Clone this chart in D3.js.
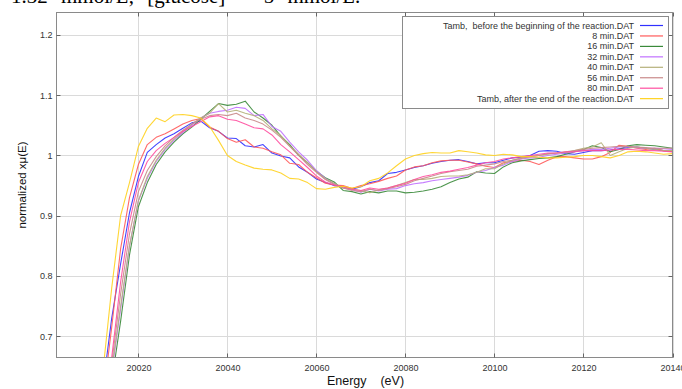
<!DOCTYPE html>
<html>
<head>
<meta charset="utf-8">
<script src="https://cdn.jsdelivr.net/npm/d3@7"></script>
<style>
  html, body { margin: 0; padding: 0; background: #fff; }
  svg { display: block; }
  text { font-family: "Liberation Sans", Arial, sans-serif; }
</style>
</head>
<body>
<div id="chart"></div>
<script>
// Photon energy grid (eV) shared by all spectra
const energies = [
  20010,20012,20014,20016,20018,20020,20022,20024,20026,20028,20030,
  20032,20034,20036,20038,20040,20042,20044,20046,20048,20050,20052,
  20054,20056,20058,20060,20062,20064,20066,20068,20070,20072,20074,
  20076,20078,20080,20082,20084,20086,20088,20090,20092,20094,20096,
  20098,20100,20102,20104,20106,20108,20110,20112,20114,20116,20118,
  20120,20122,20124,20126,20128,20130,20132,20134,20136,20138,20140
];

// Normalized absorption, one array per measurement
const tambBefore = [
  0.52,0.615,0.73,0.82,0.905,0.965,1.005,1.018,1.029,1.036,1.045,
  1.054,1.057,1.046,1.040,1.029,1.028,1.016,1.014,1.018,1.004,0.999,
  0.996,0.981,0.972,0.961,0.955,0.950,0.948,0.944,0.948,0.955,0.958,
  0.970,0.972,0.976,0.980,0.983,0.987,0.990,0.992,0.993,0.990,0.986,
  0.988,0.988,0.992,0.996,0.997,1.000,1.007,1.008,1.007,1.003,1.002,
  1.005,1.008,1.008,1.009,1.011,1.013,1.014,1.012,1.010,1.008,1.007
];
const min8 = [
  0.50,0.595,0.715,0.845,0.93,0.985,1.018,1.030,1.036,1.044,1.052,
  1.058,1.061,1.047,1.040,1.028,1.022,1.026,1.014,1.012,1.006,1.001,
  0.987,0.985,0.972,0.963,0.954,0.951,0.950,0.945,0.950,0.953,0.957,
  0.962,0.966,0.976,0.981,0.983,0.988,0.991,0.992,0.992,0.989,0.986,
  0.982,0.980,0.988,0.990,0.992,0.990,0.985,0.992,0.998,0.998,0.996,
  0.994,0.994,0.998,1.005,1.017,1.015,1.012,1.010,1.012,1.008,1.006
];
const min16 = [
  0.46,0.55,0.625,0.725,0.835,0.915,0.955,0.985,1.006,1.022,1.036,
  1.047,1.060,1.073,1.086,1.083,1.085,1.090,1.072,1.062,1.050,1.032,
  1.018,1.000,0.988,0.974,0.963,0.956,0.942,0.940,0.936,0.940,0.938,
  0.941,0.941,0.938,0.939,0.941,0.944,0.948,0.955,0.961,0.964,0.973,
  0.971,0.970,0.981,0.988,0.991,0.993,0.995,0.996,0.998,1.002,1.006,
  1.010,1.016,1.013,1.006,1.010,1.016,1.018,1.017,1.016,1.014,1.012
];
const min32 = [
  0.47,0.56,0.64,0.745,0.85,0.925,0.962,0.990,1.010,1.025,1.038,
  1.050,1.062,1.070,1.073,1.075,1.080,1.078,1.066,1.068,1.048,1.040,
  1.022,1.006,0.992,0.975,0.962,0.953,0.946,0.943,0.939,0.944,0.941,
  0.944,0.945,0.950,0.953,0.955,0.958,0.960,0.962,0.964,0.967,0.972,
  0.975,0.980,0.984,0.990,0.994,0.996,0.997,1.000,1.002,1.004,1.006,
  1.008,1.010,1.010,1.012,1.014,1.014,1.013,1.012,1.012,1.011,1.010
];
const min40 = [
  0.475,0.565,0.645,0.75,0.85,0.925,0.965,0.992,1.012,1.027,1.040,
  1.052,1.062,1.070,1.086,1.072,1.075,1.070,1.066,1.058,1.044,1.033,
  1.016,1.002,0.988,0.973,0.961,0.954,0.946,0.944,0.942,0.938,0.943,
  0.946,0.950,0.955,0.960,0.960,0.962,0.965,0.966,0.966,0.968,0.972,
  0.978,0.978,0.986,0.992,0.996,0.998,1.000,1.002,1.004,1.005,1.008,
  1.012,1.014,1.021,1.000,1.006,1.012,1.014,1.012,1.010,1.008,1.008
];
const min56 = [
  0.48,0.57,0.655,0.77,0.87,0.94,0.975,0.998,1.016,1.030,1.042,
  1.052,1.060,1.066,1.068,1.066,1.070,1.062,1.058,1.052,1.042,1.030,
  1.015,1.000,0.985,0.972,0.960,0.952,0.946,0.942,0.940,0.944,0.942,
  0.945,0.948,0.952,0.958,0.962,0.966,0.970,0.973,0.975,0.977,0.982,
  0.984,0.986,0.990,0.992,0.995,0.998,1.000,1.003,1.004,1.006,1.008,
  1.010,1.012,1.013,1.014,1.015,1.015,1.014,1.013,1.012,1.012,1.012
];
const min80 = [
  0.49,0.58,0.665,0.79,0.89,0.955,0.99,1.008,1.020,1.030,1.040,
  1.048,1.056,1.064,1.066,1.060,1.058,1.052,1.046,1.044,1.034,1.018,
  1.006,0.993,0.980,0.966,0.956,0.951,0.948,0.944,0.942,0.946,0.944,
  0.946,0.950,0.954,0.960,0.965,0.968,0.972,0.974,0.977,0.980,0.984,
  0.988,0.990,0.994,0.996,0.998,1.000,1.002,1.004,1.004,1.006,1.006,
  1.008,1.008,1.008,1.009,1.010,1.010,1.009,1.008,1.008,1.007,1.006
];
const tambAfter = [
  0.55,0.64,0.78,0.90,0.955,1.015,1.045,1.062,1.056,1.067,1.068,
  1.066,1.062,1.048,1.025,1.000,0.990,0.984,0.979,0.977,0.976,0.971,
  0.962,0.961,0.955,0.945,0.944,0.947,0.949,0.946,0.948,0.958,0.962,
  0.971,0.983,0.994,1.000,1.003,1.005,1.004,1.004,1.008,1.006,1.004,
  1.001,1.000,1.002,1.001,0.998,0.998,0.997,0.996,0.996,0.997,0.998,
  1.000,1.000,0.998,0.996,1.000,1.006,1.007,1.006,1.004,1.002,1.003
];

const seriesNames = [
  "Tamb,  before the beginning of the reaction.DAT",
  "8 min.DAT",
  "16 min.DAT",
  "32 min.DAT",
  "40 min.DAT",
  "56 min.DAT",
  "80 min.DAT",
  "Tamb, after the end of the reaction.DAT"
];
const seriesValues = [tambBefore, min8, min16, min32, min40, min56, min80, tambAfter];
const seriesColors = ["#3030ff", "#ff5a5a", "#3a8a3a", "#c070ff", "#b5b07a", "#c98a8a", "#ff4fa0", "#ffd21f"];

const xTicks = [20020, 20040, 20060, 20080, 20100, 20120, 20140];
const yTicks = [0.7, 0.8, 0.9, 1.0, 1.1, 1.2];
const yTickLabels = ["0.7", "0.8", "0.9", "1", "1.1", "1.2"];

const W = 682, H = 389;
const plot = { left: 56.5, right: 672.5, top: 12.5, bottom: 357.5 };

const svg = d3.select("#chart").append("svg")
  .attr("width", W).attr("height", H);

svg.append("rect").attr("width", W).attr("height", H).attr("fill", "#fff");

const x = d3.scaleLinear().domain([20001.6, 20140]).range([plot.left, plot.right]);
const y = d3.scaleLinear().domain([0.665, 1.237]).range([plot.bottom, plot.top]);

// Caption line from the surrounding document, clipped by the page top
svg.append("text")
  .attr("x", 11).attr("y", 3)
  .style("font-family", "'Liberation Serif', 'Times New Roman', serif")
  .style("font-size", "21px")
  .style("word-spacing", "8px")
  .attr("fill", "#000")
  .text("1.32 mmol/L, [glucose] = 5 mmol/L.");

// Grid
const grid = svg.append("g");
grid.selectAll("line.gx").data(xTicks).join("line")
  .attr("x1", d => Math.round(x(d)) + 0.5).attr("x2", d => Math.round(x(d)) + 0.5)
  .attr("y1", plot.top).attr("y2", plot.bottom)
  .attr("stroke", "#dadada").attr("stroke-width", 1);
grid.selectAll("line.gy").data(yTicks).join("line")
  .attr("y1", d => Math.round(y(d)) + 0.5).attr("y2", d => Math.round(y(d)) + 0.5)
  .attr("x1", plot.left).attr("x2", plot.right)
  .attr("stroke", "#dadada").attr("stroke-width", 1);

// Spectra
svg.append("clipPath").attr("id", "plotClip")
  .append("rect")
  .attr("x", plot.left).attr("y", plot.top)
  .attr("width", plot.right - plot.left).attr("height", plot.bottom - plot.top);

const line = d3.line()
  .x((d, i) => x(energies[i]))
  .y(d => y(d));

svg.append("g").attr("clip-path", "url(#plotClip)")
  .selectAll("path").data(seriesValues).join("path")
  .attr("d", d => line(d))
  .attr("fill", "none")
  .attr("stroke", (d, i) => seriesColors[i])
  .attr("stroke-width", 1.1)
  .attr("stroke-linejoin", "round")
  .attr("opacity", 0.9);

// Frame
svg.append("rect")
  .attr("x", plot.left).attr("y", plot.top)
  .attr("width", plot.right - plot.left).attr("height", plot.bottom - plot.top)
  .attr("fill", "none").attr("stroke", "#8a8a8a").attr("stroke-width", 1);

// Axes with inward ticks on all four sides
const tickLen = 4;
const axisBottom = d3.axisBottom(x).tickValues(xTicks).tickSize(0).tickPadding(0).tickFormat(d3.format("d"));
const gx = svg.append("g").attr("transform", `translate(0,${plot.bottom})`).call(axisBottom);
gx.select(".domain").remove();
gx.selectAll("text").attr("y", 13).attr("dy", 0)
  .style("font-size", "9px").attr("fill", "#333");

const axisLeft = d3.axisLeft(y).tickValues(yTicks).tickSize(0).tickPadding(0)
  .tickFormat((d, i) => yTickLabels[i]);
const gy = svg.append("g").attr("transform", `translate(${plot.left},0)`).call(axisLeft);
gy.select(".domain").remove();
gy.selectAll("text").attr("x", -4).attr("dy", "0.32em")
  .style("font-size", "9px").attr("fill", "#333");

const tickG = svg.append("g").attr("stroke", "#666").attr("stroke-width", 1);
xTicks.forEach(t => {
  const px = Math.round(x(t)) + 0.5;
  tickG.append("line").attr("x1", px).attr("x2", px).attr("y1", plot.bottom).attr("y2", plot.bottom - tickLen);
  tickG.append("line").attr("x1", px).attr("x2", px).attr("y1", plot.top).attr("y2", plot.top + tickLen);
});
yTicks.forEach(t => {
  const py = Math.round(y(t)) + 0.5;
  tickG.append("line").attr("x1", plot.left).attr("x2", plot.left + tickLen).attr("y1", py).attr("y2", py);
  tickG.append("line").attr("x1", plot.right).attr("x2", plot.right - tickLen).attr("y1", py).attr("y2", py);
});

// Axis titles
svg.append("text")
  .attr("x", (plot.left + plot.right) / 2 + 1).attr("y", 385)
  .attr("text-anchor", "middle")
  .style("font-size", "12.5px").style("white-space", "pre")
  .attr("fill", "#111")
  .text("Energy    (eV)");

svg.append("text")
  .attr("transform", `translate(26,${(plot.top + plot.bottom) / 2}) rotate(-90)`)
  .attr("text-anchor", "middle")
  .style("font-size", "11.5px")
  .attr("fill", "#111")
  .text("normalized xμ(E)");

// Legend
const lg = svg.append("g");
lg.append("rect")
  .attr("x", 402.5).attr("y", 16.5).attr("width", 266).attr("height", 92)
  .attr("fill", "#fff").attr("stroke", "#8a8a8a").attr("stroke-width", 1);
const rows = lg.selectAll("g.row").data(seriesNames).join("g")
  .attr("transform", (d, i) => `translate(0,${25.5 + i * 10.45})`);
rows.append("text")
  .attr("x", 634).attr("y", 3)
  .attr("text-anchor", "end")
  .style("font-size", "9px").style("white-space", "pre")
  .attr("fill", "#333")
  .text(d => d);
rows.append("line")
  .attr("x1", 640).attr("x2", 663).attr("y1", 0).attr("y2", 0)
  .attr("stroke", (d, i) => seriesColors[i]).attr("stroke-width", 1.2);
</script>
</body>
</html>
